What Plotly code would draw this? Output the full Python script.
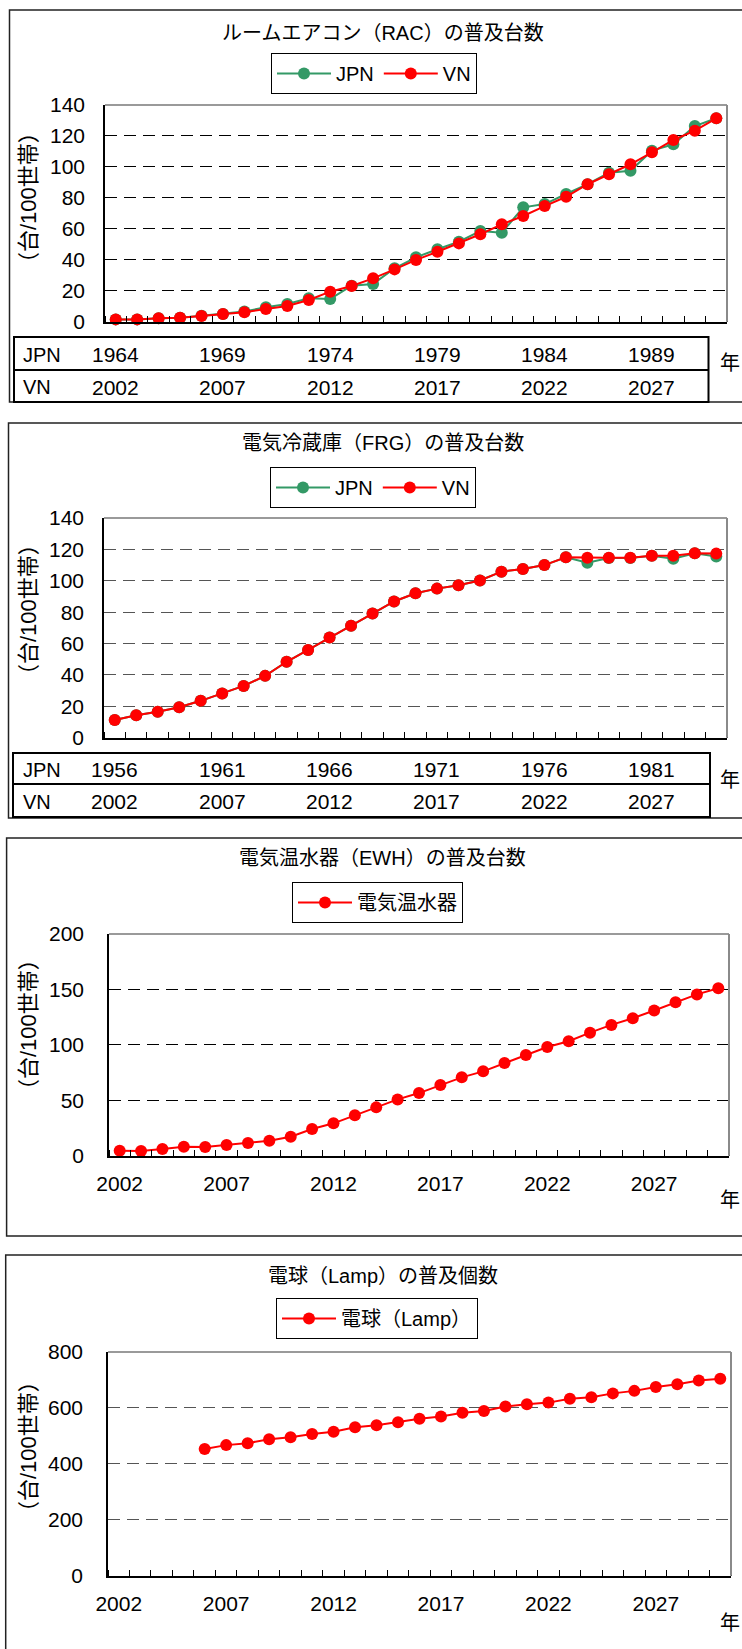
import plotly.graph_objects as go

# ---------------------------------------------------------------------------
# Data: ownership per 100 households, VN calendar years 2002-2030
# ---------------------------------------------------------------------------
YEARS = [2002, 2003, 2004, 2005, 2006, 2007, 2008, 2009, 2010, 2011,
         2012, 2013, 2014, 2015, 2016, 2017, 2018, 2019, 2020, 2021,
         2022, 2023, 2024, 2025, 2026, 2027, 2028, 2029, 2030]
LAMP_YEARS = [2006, 2007, 2008, 2009, 2010, 2011, 2012, 2013, 2014, 2015,
              2016, 2017, 2018, 2019, 2020, 2021, 2022, 2023, 2024, 2025,
              2026, 2027, 2028, 2029, 2030]

RAC_JPN = [1.5, 1.5, 2.3, 2.5, 3.8, 5.0, 6.6, 9.3, 11.4, 15.1,
           14.7, 23.3, 24.4, 34.5, 41.6, 46.8, 51.7, 58.6, 57.5, 73.9,
           76.0, 82.5, 88.8, 96.3, 97.5, 110.5, 114.6, 126.4, 131.4]
RAC_VN = [1.5, 1.5, 2.3, 2.5, 3.7, 5.0, 6.1, 8.2, 10.1, 14.0,
          19.4, 23.1, 28.0, 33.8, 39.9, 45.2, 50.6, 56.5, 62.9, 68.3,
          74.7, 80.7, 88.8, 95.2, 101.7, 109.4, 117.4, 123.4, 131.4]

FRG_JPN = [11.3, 14.3, 16.6, 19.4, 23.5, 28.1, 33.0, 39.4, 48.4, 55.9,
           63.8, 71.4, 79.1, 86.8, 92.0, 95.0, 97.2, 100.2, 105.8, 107.5,
           110.0, 115.0, 111.5, 114.5, 114.5, 116.0, 114.0, 117.5, 115.5]
FRG_VN = [11.3, 14.3, 16.6, 19.4, 23.5, 28.1, 33.0, 39.4, 48.4, 55.9,
          63.8, 71.4, 79.1, 86.8, 92.0, 95.0, 97.2, 100.2, 105.8, 107.5,
          110.0, 115.0, 114.7, 114.7, 114.7, 116.0, 116.0, 117.5, 117.3]

EWH_VN = [4.5, 4.2, 6.0, 8.1, 7.8, 9.6, 11.4, 13.5, 17.1, 24.1,
          29.2, 36.4, 43.6, 50.8, 56.5, 63.8, 70.7, 76.1, 83.6, 90.8,
          98.0, 103.2, 111.0, 118.0, 124.0, 131.0, 138.5, 145.5, 151.0]

LAMP_VN = [453, 467, 474, 488, 495, 507, 515, 531, 538, 549,
           561, 569, 583, 589, 605, 613, 619, 633, 638, 652,
           661, 675, 685, 698, 704]

TICK_YEARS = [2002, 2007, 2012, 2017, 2022, 2027]
RAC_JPN_YEARS = [1964, 1969, 1974, 1979, 1984, 1989]
FRG_JPN_YEARS = [1956, 1961, 1966, 1971, 1976, 1981]

TITLES = ["ルームエアコン（RAC）の普及台数",
          "電気冷蔵庫（FRG）の普及台数",
          "電気温水器（EWH）の普及台数",
          "電球（Lamp）の普及個数"]
Y_TITLE = "（台/100世帯）"
X_UNIT = "年"

# ---------------------------------------------------------------------------
# Page geometry (pixels) and styling
# ---------------------------------------------------------------------------
W, H = 742, 1649
FONT = "'Liberation Sans', Arial, 'Noto Sans CJK JP', sans-serif"
GREEN = "#339966"
RED = "#FF0000"


def fx(p):
    return p / W


def fy(p):
    return 1 - p / H


panels = [
    dict(box=(9.5, 10, 402), title_y=33, legend=(374, 53),
         plot=(105, 727, 105, 321.7), ytitle_y=198, ymax=140, dtick=20,
         grid="#000000", table=(14, 708.5, 337, 370, 402), unit_y=363,
         labels=False),
    dict(box=(8.5, 423, 818), title_y=443, legend=(373, 467),
         plot=(104, 727, 518, 737.7), ytitle_y=610, ymax=140, dtick=20,
         grid="#555555", table=(13, 710, 753, 784, 817), unit_y=780,
         labels=False),
    dict(box=(6.6, 838, 1236), title_y=858, legend=(377.5, 882),
         plot=(109, 729, 934, 1155.7), ytitle_y=1025, ymax=200, dtick=50,
         grid="#000000", table=None, unit_y=1200, labels=True),
    dict(box=(5.7, 1255, 1700), title_y=1276, legend=(377, 1298),
         plot=(108, 731, 1352, 1575.7), ytitle_y=1447, ymax=800, dtick=200,
         grid="#555555", table=None, unit_y=1623, labels=True),
]

series = [
    [("JPN", YEARS, RAC_JPN, GREEN), ("VN", YEARS, RAC_VN, RED)],
    [("JPN", YEARS, FRG_JPN, GREEN), ("VN", YEARS, FRG_VN, RED)],
    [("電気温水器", YEARS, EWH_VN, RED)],
    [("電球（Lamp）", LAMP_YEARS, LAMP_VN, RED)],
]

table_rows = [
    [("JPN", RAC_JPN_YEARS), ("VN", TICK_YEARS)],
    [("JPN", FRG_JPN_YEARS), ("VN", TICK_YEARS)],
    None,
    None,
]

fig = go.Figure()
shapes = []
annotations = []
layout_extra = {}

for i, (pn, sers) in enumerate(zip(panels, series)):
    n = i + 1
    xa = "x" if n == 1 else f"x{n}"
    ya = "y" if n == 1 else f"y{n}"
    lg = "legend" if n == 1 else f"legend{n}"
    xkey = "xaxis" if n == 1 else f"xaxis{n}"
    ykey = "yaxis" if n == 1 else f"yaxis{n}"

    for name, xs, ys, color in sers:
        fig.add_trace(go.Scatter(
            x=xs, y=ys, name=name, mode="lines+markers",
            line=dict(color=color, width=2),
            marker=dict(color=color, size=12),
            xaxis=xa, yaxis=ya, legend=lg, cliponaxis=False,
        ))

    x0, x1, ytop, ybot = pn["plot"]
    layout_extra[xkey] = dict(
        domain=[fx(x0), fx(x1)], anchor=ya, range=[2001.5, 2030.5],
        automargin=False,
        showgrid=False, zeroline=False, showline=True, linecolor="#000000",
        linewidth=2, ticks="", tickmode="array", tickvals=TICK_YEARS,
        showticklabels=pn["labels"], ticklabelstandoff=8,
        tickfont=dict(size=21, color="black"),
        minor=dict(ticks="inside", ticklen=6, tickwidth=1,
                   tickcolor="#000000", tick0=2001.5, dtick=1,
                   showgrid=False),
    )
    layout_extra[ykey] = dict(
        domain=[fy(ybot), fy(ytop)], anchor=xa, range=[0, pn["ymax"]],
        automargin=False,
        tick0=0, dtick=pn["dtick"], showgrid=True, gridcolor=pn["grid"],
        griddash="12px,7px", gridwidth=1, zeroline=False, showline=True,
        linecolor="#000000", linewidth=1.5, ticks="",
        ticklabelstandoff=14 if n <= 2 else 19,
        tickfont=dict(size=21, color="black"),
    )

    # Gray frame on the top and right of the plot area
    shapes.append(dict(type="line", xref=f"{xa} domain", yref=f"{ya} domain",
                       x0=0, x1=1, y0=1, y1=1,
                       line=dict(color="#9a9a9a", width=2)))
    shapes.append(dict(type="line", xref=f"{xa} domain", yref=f"{ya} domain",
                       x0=1, x1=1, y0=0, y1=1,
                       line=dict(color="#8a8a8a", width=2)))

    # Chart frame
    bx, btop, bbot = pn["box"]
    shapes.append(dict(type="rect", xref="paper", yref="paper",
                       x0=fx(bx), x1=1.05, y0=fy(bbot), y1=fy(btop),
                       line=dict(color="#222222", width=1.5)))

    # Title
    annotations.append(dict(text=TITLES[i], xref="paper", yref="paper",
                            x=fx(383), y=fy(pn["title_y"]),
                            xanchor="center", yanchor="middle",
                            showarrow=False, font=dict(size=20)))
    # Y axis title
    annotations.append(dict(text=Y_TITLE, xref="paper", yref="paper",
                            x=fx(28), y=fy(pn["ytitle_y"]), textangle=-90,
                            xanchor="center", yanchor="middle",
                            showarrow=False, font=dict(size=22)))
    # Unit label at the right end of the category axis
    annotations.append(dict(text=X_UNIT, xref="paper", yref="paper",
                            x=1, y=fy(pn["unit_y"]),
                            xanchor="right", yanchor="middle",
                            showarrow=False, font=dict(size=20)))

    # Legend
    lx, ltop = pn["legend"]
    layout_extra[lg] = dict(
        x=fx(lx), y=fy(ltop), xanchor="center", yanchor="top",
        orientation="h", bordercolor="#000000", borderwidth=1,
        bgcolor="white", font=dict(size=20, color="black"),
        itemwidth=54, tracegroupgap=0,
    )

    # Year table under the axis
    rows = table_rows[i]
    if rows:
        tx0, tx1, r0, r1, r2 = pn["table"]
        shapes.append(dict(type="rect", xref="paper", yref="paper",
                           x0=fx(tx0), x1=fx(tx1), y0=fy(r2), y1=fy(r0),
                           line=dict(color="#000000", width=2)))
        shapes.append(dict(type="line", xref="paper", yref="paper",
                           x0=fx(tx0), x1=fx(tx1), y0=fy(r1), y1=fy(r1),
                           line=dict(color="#000000", width=2)))
        for (label, yrs), (ra, rb) in zip(rows, [(r0, r1), (r1, r2)]):
            yc = fy((ra + rb) / 2 + 1)
            annotations.append(dict(text=label, xref="paper", yref="paper",
                                    x=fx(21), y=yc, xanchor="left",
                                    yanchor="middle", showarrow=False,
                                    font=dict(size=20)))
            for vy, yr in zip(TICK_YEARS, yrs):
                annotations.append(dict(text=str(yr), xref=xa, yref="paper",
                                        x=vy, y=yc, xanchor="center",
                                        yanchor="middle", showarrow=False,
                                        font=dict(size=21)))

fig.update_layout(
    width=W, height=H, autosize=False,
    margin=dict(l=0, r=0, t=0, b=0, pad=0, autoexpand=False),
    paper_bgcolor="white", plot_bgcolor="white",
    font=dict(family=FONT, size=20, color="black"),
    shapes=shapes, annotations=annotations,
    **layout_extra,
)

fig.write_html("out.html")
